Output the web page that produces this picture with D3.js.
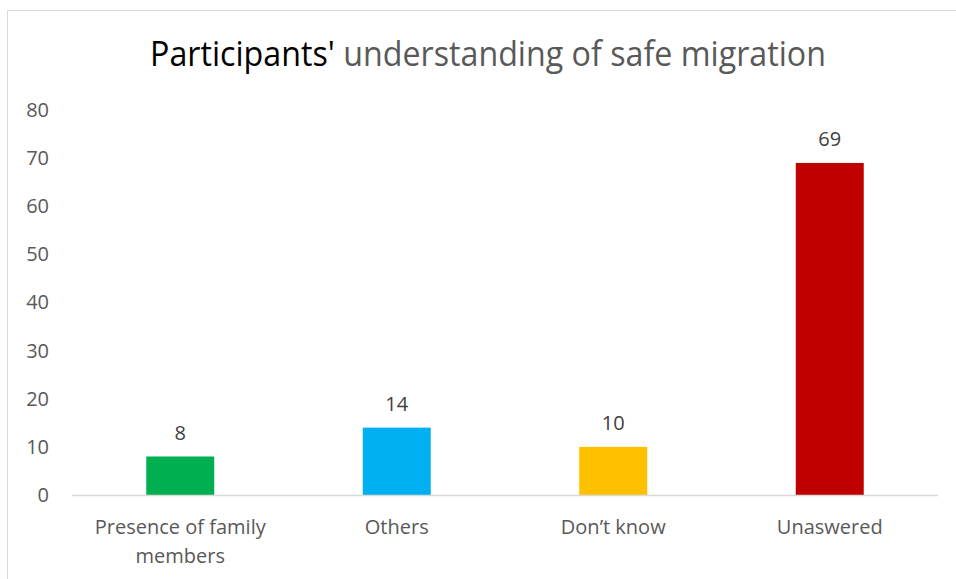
<!DOCTYPE html>
<html>
<head>
<meta charset="utf-8">
<script src="https://cdn.jsdelivr.net/npm/d3@7"></script>
<style>
  body { margin: 0; background: #fff; }
  text { font-family: "Open Sans", "Noto Sans", sans-serif; }
</style>
</head>
<body>
<div id="chart"></div>
<script>
const categories = ["Presence of family members", "Others", "Don\u2019t know", "Unaswered"];
const values = [8, 14, 10, 69];
const barColors = ["#00b050", "#00b0f0", "#ffc000", "#c00000"];
const yTicks = [0, 10, 20, 30, 40, 50, 60, 70, 80];

const width = 956, height = 579;
const margin = { top: 110, right: 18, bottom: 84, left: 72 };

const svg = d3.select("#chart")
  .append("svg")
  .attr("width", width)
  .attr("height", height);

// chart frame
svg.append("path")
  .attr("d", `M7.5,${height} V10.5 H${width}`)
  .attr("fill", "none")
  .attr("stroke", "#d9d9d9")
  .attr("stroke-width", 1);

// title
const title = svg.append("text")
  .attr("x", 488)
  .attr("y", 66)
  .attr("text-anchor", "middle")
  .attr("textLength", 676)
  .attr("lengthAdjust", "spacingAndGlyphs")
  .style("font-size", "34px");
title.append("tspan").attr("fill", "#000").text("Participants' ");
title.append("tspan").attr("fill", "#595959").text("understanding of safe migration");

const x = d3.scaleBand()
  .domain(categories)
  .range([margin.left, width - margin.right])
  .paddingInner(0.686)
  .paddingOuter(0.343);

const y = d3.scaleLinear()
  .domain([0, 80])
  .range([height - margin.bottom, margin.top]);

// y axis labels
const yAxis = svg.append("g")
  .attr("transform", `translate(${margin.left - 23},0)`)
  .call(d3.axisLeft(y).tickValues(yTicks).tickSize(0).tickPadding(0));
yAxis.select(".domain").remove();
yAxis.selectAll("text")
  .attr("fill", "#595959")
  .style("font-size", "20px");

// bars
svg.selectAll("rect.bar")
  .data(values)
  .join("rect")
  .attr("class", "bar")
  .attr("x", (d, i) => x(categories[i]))
  .attr("y", d => y(d))
  .attr("width", x.bandwidth())
  .attr("height", d => y(0) - y(d))
  .attr("fill", (d, i) => barColors[i]);

// baseline
svg.append("line")
  .attr("x1", margin.left)
  .attr("x2", width - margin.right)
  .attr("y1", y(0) + 0.5)
  .attr("y2", y(0) + 0.5)
  .attr("stroke", "#d9d9d9")
  .attr("stroke-width", 1.5);

// value labels
svg.selectAll("text.val")
  .data(values)
  .join("text")
  .attr("class", "val")
  .attr("x", (d, i) => x(categories[i]) + x.bandwidth() / 2)
  .attr("y", d => y(d) - 17)
  .attr("text-anchor", "middle")
  .attr("fill", "#404040")
  .style("font-size", "20px")
  .text(d => d);

// category labels, wrapped like the original
const wrapped = {
  "Presence of family members": ["Presence of family", "members"]
};
const xl = svg.selectAll("text.cat")
  .data(categories)
  .join("text")
  .attr("class", "cat")
  .attr("text-anchor", "middle")
  .attr("fill", "#595959")
  .style("font-size", "20px");
xl.each(function(d) {
  const lines = wrapped[d] || [d];
  const t = d3.select(this);
  lines.forEach((ln, k) => {
    t.append("tspan")
      .attr("x", x(d) + x.bandwidth() / 2)
      .attr("y", y(0) + 39 + k * 29)
      .text(ln);
  });
});
</script>
</body>
</html>
